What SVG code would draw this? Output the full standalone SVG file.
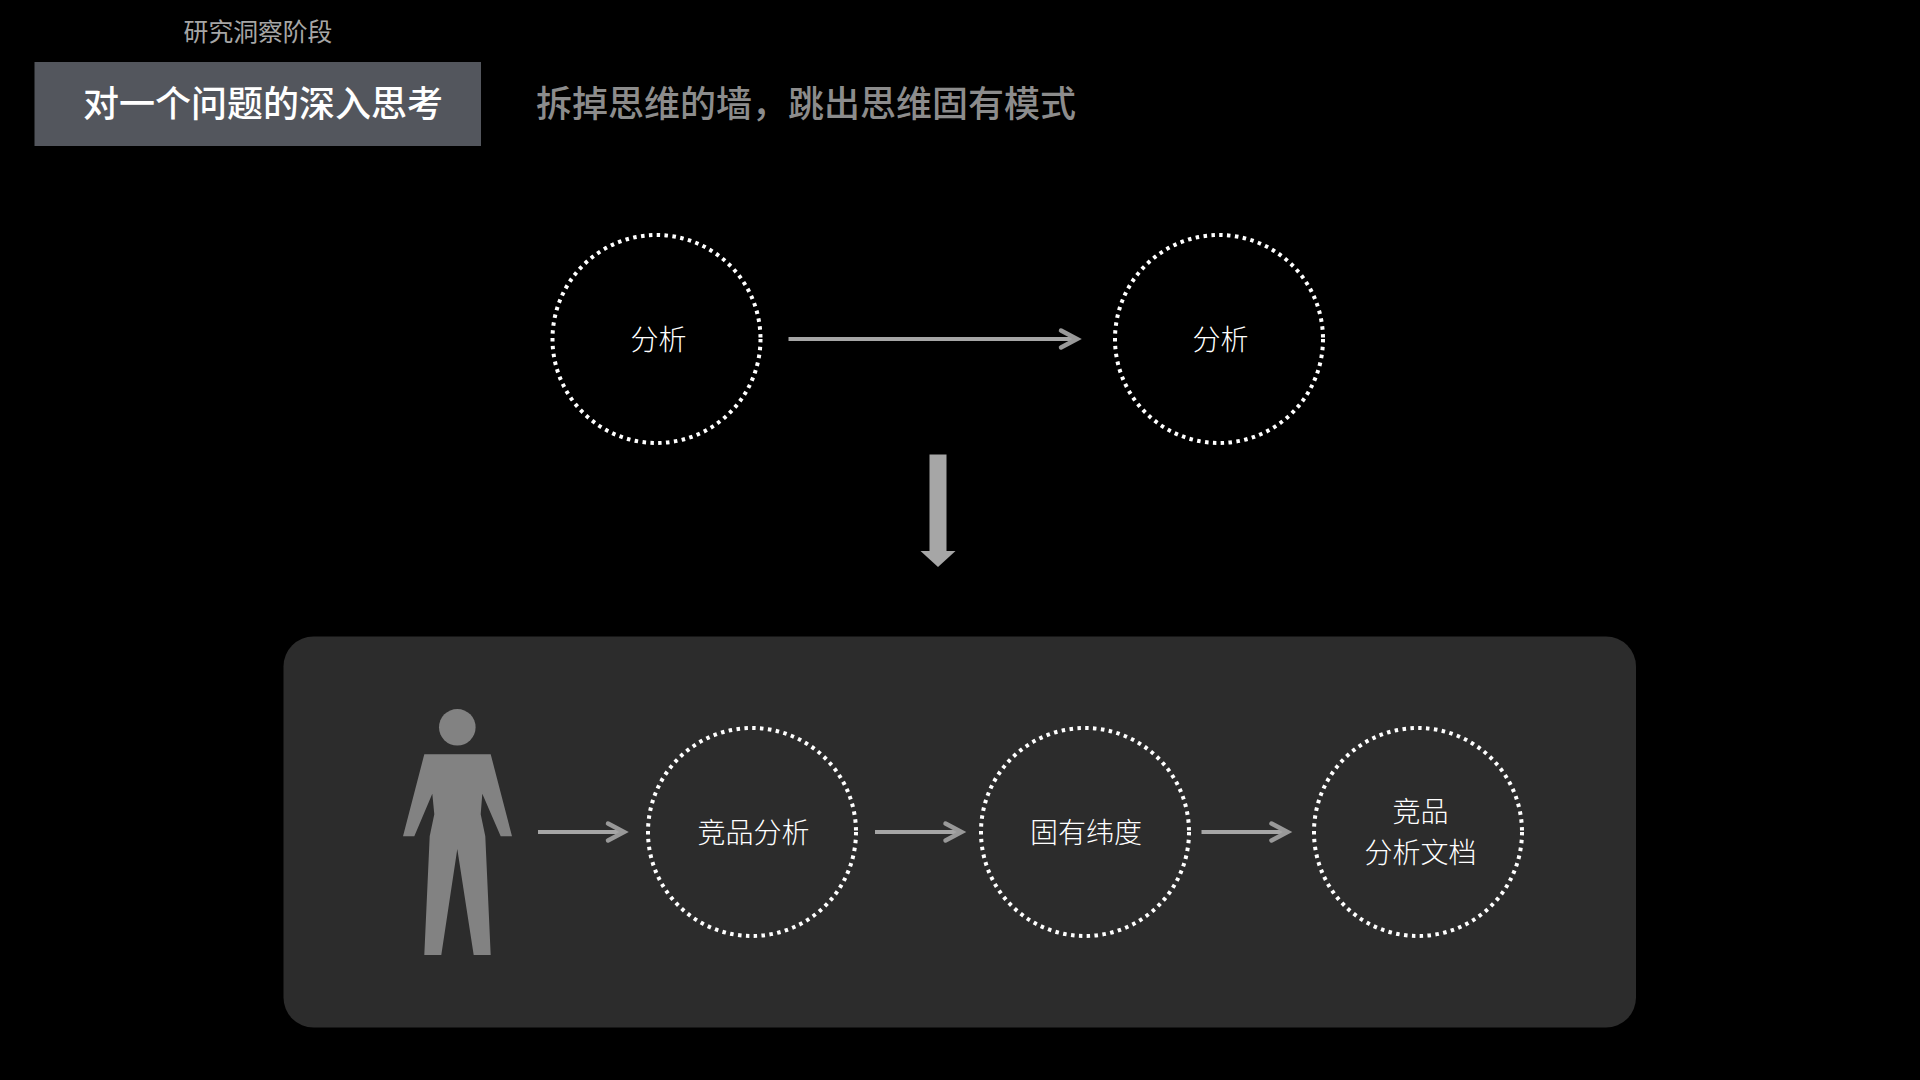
<svg xmlns="http://www.w3.org/2000/svg" width="1920" height="1080" viewBox="0 0 1920 1080">
<style>
text{font-family:"Noto Sans CJK SC","Noto Sans",sans-serif}
.ring{fill:none;stroke:#fff;stroke-width:4;stroke-dasharray:3.5 4.4}
.t{fill:#fff;font-size:28px;font-weight:300;text-anchor:middle}
.ln{fill:none;stroke:#a6a6a6;stroke-width:4}
.hd{fill:none;stroke:#999;stroke-width:4.5;stroke-linecap:round;stroke-linejoin:miter}
</style>
<defs>
<circle id="c" r="104" class="ring"/>
</defs>
<rect width="1920" height="1080" fill="#000"/>
<g id="header">
<text x="258" y="41" font-size="24.8" fill="#a6a6a6" text-anchor="middle">研究洞察阶段</text>
<rect x="34.5" y="62" width="446.5" height="84" fill="#53565d"/>
<text x="263" y="117" font-size="36" font-weight="500" fill="#fff" text-anchor="middle">对一个问题的深入思考</text>
<text x="536" y="117" font-size="36" font-weight="500" fill="#8c8c8c">拆掉思维的墙，跳出思维固有模式</text>
</g>
<g id="panel"><rect x="283.5" y="636.5" width="1352.5" height="391" rx="30" fill="#2c2c2c"/></g>
<g id="node-a1"><use href="#c" x="656.5" y="339"/><text class="t" x="658.5" y="350">分析</text></g>
<g id="node-a2"><use href="#c" x="1219" y="339"/><text class="t" x="1220.5" y="350">分析</text></g>
<g id="person" fill="#828282">
<circle cx="457.3" cy="727.3" r="18.3"/>
<path d="M424.3 754.3H490.7L512 836.3H500.7L482.3 793.7L480.7 814.3L485.3 836.3L490.7 955H473.7L457.3 849L441.3 955H424.3L429.7 836.3L434.3 814.3L432.3 793.7L414.3 836.3H403Z"/>
</g>
<g id="node-b1"><use href="#c" x="752" y="832"/><text class="t" x="753.5" y="842.500">竞品分析</text></g>
<g id="node-b2"><use href="#c" x="1085" y="832"/><text class="t" x="1086" y="842.500">固有纬度</text></g>
<g id="node-b3"><use href="#c" x="1418" y="832"/><text class="t" x="1420.5" y="822">竞品</text><text class="t" x="1420.5" y="863">分析文档</text></g>
<g id="connectors">
<path class="ln" d="M788.5 339H1075"/><path class="hd" d="M1061 330.5L1077 339L1061 347.5"/>
<path class="ln" d="M538 832H623"/><path class="hd" d="M608 823.5L624 832L608 840.5"/>
<path class="ln" d="M875 832H961"/><path class="hd" d="M945.500 823.5L961.500 832L945.500 840.5"/>
<path class="ln" d="M1201.5 832H1287"/><path class="hd" d="M1271.500 823.5L1287.500 832L1271.500 840.5"/>
<path d="M929.5 454.5H946.5V551H955.5L938 567L920.5 551H929.5Z" fill="#a6a6a6"/>
</g>
</svg>
